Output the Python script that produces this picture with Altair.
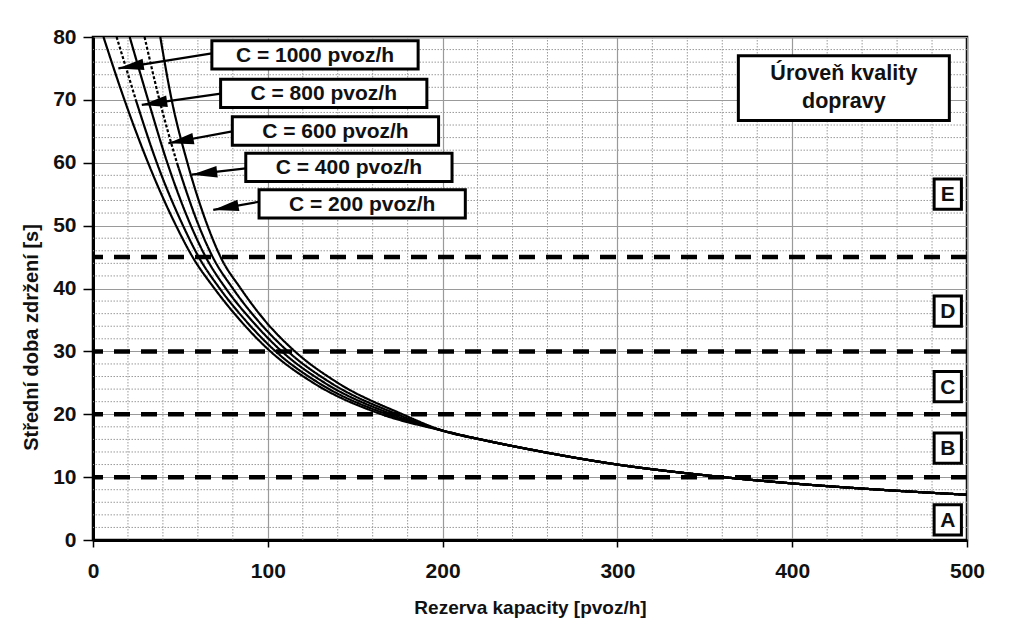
import math
import altair as alt
import pandas as pd

# ---------------- data ----------------
capacity_labels = ["C = 1000 pvoz/h", "C = 800 pvoz/h", "C = 600 pvoz/h",
                   "C = 400 pvoz/h", "C = 200 pvoz/h"]
# delay levels [s] at which the reserve of each curve was read
delay_levels = [80, 70, 60, 50, 45, 40, 35, 30, 25, 20]
reserve_c1000 = [6, 18, 31.5, 47.5, 57, 69.5, 84, 101.5, 126, 165]
reserve_c800 = [13.5, 24.5, 36.5, 51.5, 60.5, 72.5, 87, 104.5, 129, 168]
reserve_c600 = [21, 31.5, 42.5, 56, 64.5, 76, 90.5, 108, 132.5, 171]
reserve_c400 = [29.5, 38, 48, 60.5, 68.5, 80, 94, 111.5, 136, 174]
reserve_c200 = [38.5, 45, 54, 65.5, 73, 84.5, 98, 115.5, 140, 177]
# common tail where all curves coincide
tail_reserve = [200, 225, 250, 300, 350, 400, 450, 500]
tail_delay = [17.4, 15.8, 14.4, 12.0, 10.3, 9.0, 8.0, 7.2]
# curves drawn dotted in their upper part, down to this delay
dotted_until = {"C = 800 pvoz/h": 70, "C = 400 pvoz/h": 60}

los_thresholds = [10, 20, 30, 45]
los_letters = ["A", "B", "C", "D", "E"]
legend_lines = ["Úroveň kvality", "dopravy"]

x_major = [0, 100, 200, 300, 400, 500]
y_major = [0, 10, 20, 30, 40, 50, 60, 70, 80]
x_minor = [v for v in range(0, 501, 20) if v % 100 != 0]
y_minor = [v for v in range(0, 81, 2) if v % 10 != 0]

# ---------------- layout (plot geometry) ----------------
W, H = 874, 503
PX_X = W / 500.0
PX_Y = H / 80.0
FONT = "Liberation Sans"

# annotation layout in data units
cap_box_x0 = [68, 73, 79.7, 87.4, 95]
cap_box_w = 118
cap_box_ytop = [79.4, 73.3, 67.3, 61.5, 55.7]
cap_box_h = 4.5
arrow_start = [(68, 77.4), (73.1, 71.0), (79.7, 65.0), (87.4, 59.1), (95, 53.8)]
arrow_tip = [(14.5, 75.0), (27.9, 69.2), (43.1, 63.1), (56.5, 58.1), (68.8, 52.5)]
los_letter_y = [3.2, 14.6, 24.4, 36.4, 55.0]
los_box_x = 489.0
los_box_hw, los_box_hh = 7.8, 2.4
legend_box = (369.2, 489.9, 66.7, 77.0)
legend_text_y = [74.1, 69.7]

# ---------------- tables ----------------
reserves = [reserve_c1000, reserve_c800, reserve_c600, reserve_c400, reserve_c200]
rows = []
for lab, res in zip(capacity_labels, reserves):
    pts = list(zip(res, delay_levels)) + list(zip(tail_reserve, tail_delay))
    cut = dotted_until.get(lab)
    for r, d in pts:
        if cut is None:
            rows.append({"cap": lab, "seg": "solid", "grp": lab + "s", "R": r, "d": d})
        else:
            if d >= cut:
                rows.append({"cap": lab, "seg": "dotted", "grp": lab + "d", "R": r, "d": d})
            if d <= cut:
                rows.append({"cap": lab, "seg": "solid", "grp": lab + "s", "R": r, "d": d})
curves = pd.DataFrame(rows)

xs = alt.Scale(domain=[0, 500], nice=False, zero=False)
ys = alt.Scale(domain=[0, 80], nice=False, zero=False)

XA = alt.Axis(
    values=x_major, title="Rezerva kapacity [pvoz/h]", grid=True,
    gridColor="#9a9a9a", gridWidth=1.2, tickSize=7, tickWidth=1.5,
    tickColor="black", labelPadding=13, labelFontSize=21, labelFont=FONT,
    labelFontWeight="bold", labelColor="#111", domainColor="black",
    domainWidth=3, titleFont=FONT, titleFontSize=19, titleFontWeight="bold",
    titleColor="#111", titleX=W / 2, titleY=67, titleBaseline="middle",
    labelFlush=False)
YA = alt.Axis(
    values=y_major, title="Střední doba zdržení [s]", grid=True,
    gridColor="#9a9a9a", gridWidth=1.2, tickSize=10, tickWidth=1.5,
    tickColor="black", labelPadding=7, labelFontSize=21, labelFont=FONT,
    labelFontWeight="bold", labelColor="#111", domainColor="black",
    domainWidth=3, titleFont=FONT, titleFontSize=20, titleFontWeight="bold",
    titleColor="#111", titleX=-62, titleY=300, titleBaseline="middle",
    titleAngle=270, labelFlush=False)


def X(f):
    return alt.X(f, scale=xs, axis=XA)


def Y(f):
    return alt.Y(f, scale=ys, axis=YA)


# minor grid
minor_x = alt.Chart(pd.DataFrame({"R": x_minor})).mark_rule(
    color="#9a9a9a", strokeWidth=1, strokeDash=[1.5, 1.5]
).encode(x=X("R:Q"))
minor_y = alt.Chart(pd.DataFrame({"d": y_minor})).mark_rule(
    color="#9a9a9a", strokeWidth=1, strokeDash=[1.5, 1.5]
).encode(y=Y("d:Q"))

# threshold dashed lines
thr = alt.Chart(pd.DataFrame({"d": los_thresholds})).mark_rule(
    color="black", strokeWidth=4.5, strokeDash=[16, 11]
).encode(y=Y("d:Q"))

# curves
line = alt.Chart(curves).mark_line(
    color="black", strokeWidth=2.2, interpolate="monotone", clip=True
).encode(
    x=X("R:Q"), y=Y("d:Q"),
    detail="grp:N",
    strokeDash=alt.StrokeDash("seg:N", scale=alt.Scale(
        domain=["solid", "dotted"], range=[[1, 0], [3, 2]]), legend=None),
)

# capacity boxes
cap_df = pd.DataFrame({
    "lab": capacity_labels,
    "R": cap_box_x0,
    "R2": [v + cap_box_w for v in cap_box_x0],
    "d2": cap_box_ytop,
    "d": [v - cap_box_h for v in cap_box_ytop],
})
cap_df["xc"] = (cap_df.R + cap_df.R2) / 2
cap_df["yc"] = (cap_df.d + cap_df.d2) / 2

arr_rows = []
for lab, (sx, sy), (tx, ty) in zip(capacity_labels, arrow_start, arrow_tip):
    dx = (sx - tx) * PX_X
    dy = -(sy - ty) * PX_Y
    ang = math.degrees(math.atan2(dy, dx)) % 360
    arr_rows.append({"lab": lab, "sx": sx, "sy": sy, "tx": tx, "ty": ty, "ang": ang})
arr_df = pd.DataFrame(arr_rows)

arrow_lines = alt.Chart(arr_df).mark_rule(color="black", strokeWidth=2.2).encode(
    x=X("sx:Q"), y=Y("sy:Q"), x2="tx:Q", y2="ty:Q")
arrow_heads = alt.Chart(arr_df).mark_point(
    shape="M 0 0 L 2 -0.45 L 2 0.45 Z", filled=True, color="black", opacity=1,
    size=650, strokeWidth=0
).encode(x=X("tx:Q"), y=Y("ty:Q"), angle=alt.Angle("ang:Q", scale=None))

cap_boxes = alt.Chart(cap_df).mark_rect(
    fill="white", stroke="black", strokeWidth=3
).encode(x=X("R:Q"), x2="R2:Q", y=Y("d:Q"), y2="d2:Q")
cap_text = alt.Chart(cap_df).mark_text(
    font=FONT, fontSize=21, fontWeight="bold", color="#111", baseline="middle",
    align="center", dy=1
).encode(x=X("xc:Q"), y=Y("yc:Q"), text="lab:N")

# LOS letters
los_df = pd.DataFrame({"L": los_letters, "yc": los_letter_y})
los_df["xc"] = los_box_x
los_df["R"] = los_box_x - los_box_hw
los_df["R2"] = los_box_x + los_box_hw
los_df["d"] = los_df.yc - los_box_hh
los_df["d2"] = los_df.yc + los_box_hh
los_boxes = alt.Chart(los_df).mark_rect(
    fill="white", stroke="black", strokeWidth=3
).encode(x=X("R:Q"), x2="R2:Q", y=Y("d:Q"), y2="d2:Q")
los_text = alt.Chart(los_df).mark_text(
    font=FONT, fontSize=21, fontWeight="bold", color="#111", baseline="middle",
    align="center", dy=1
).encode(x=X("xc:Q"), y=Y("yc:Q"), text="L:N")

# legend box
lg_df = pd.DataFrame({"R": [legend_box[0]], "R2": [legend_box[1]],
                      "d": [legend_box[2]], "d2": [legend_box[3]]})
lg_box = alt.Chart(lg_df).mark_rect(
    fill="white", stroke="black", strokeWidth=3
).encode(x=X("R:Q"), x2="R2:Q", y=Y("d:Q"), y2="d2:Q")
lg_txt_df = pd.DataFrame({"t": legend_lines, "yc": legend_text_y})
lg_txt_df["xc"] = (legend_box[0] + legend_box[1]) / 2
lg_text = alt.Chart(lg_txt_df).mark_text(
    font=FONT, fontSize=21.5, fontWeight="bold", color="#111", baseline="middle",
    align="center"
).encode(x=X("xc:Q"), y=Y("yc:Q"), text="t:N")

chart = alt.layer(
    minor_x, minor_y, thr, line, arrow_lines, arrow_heads, cap_boxes, cap_text,
    los_boxes, los_text, lg_box, lg_text
).properties(
    width=W, height=H,
    autosize=alt.AutoSizeParams(type="none"),
    padding={"left": 85, "top": 29, "right": 40, "bottom": 85},
    background="white",
).configure_view(stroke="black", strokeWidth=2.5)

chart.save("out.html", embed_options={"renderer": "svg", "actions": False})
